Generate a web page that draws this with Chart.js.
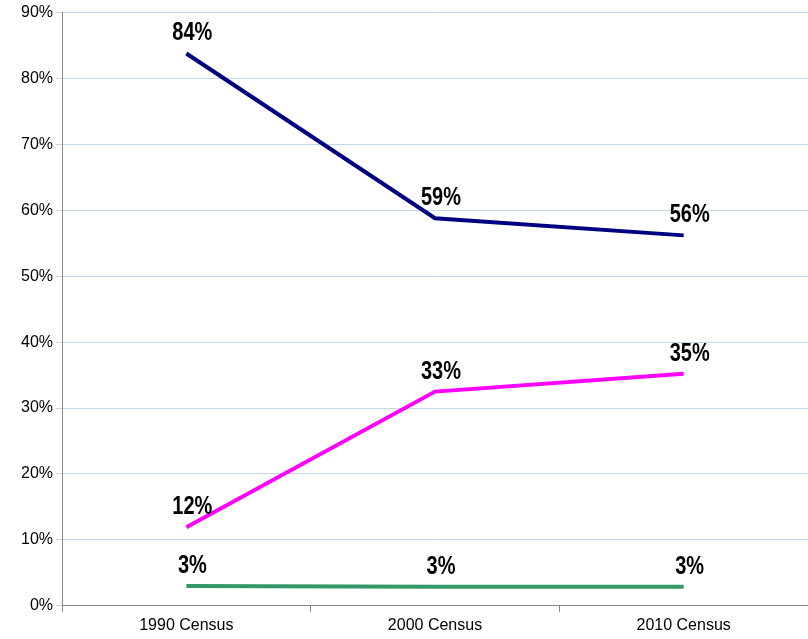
<!DOCTYPE html>
<html>
<head>
<script src="https://cdn.jsdelivr.net/npm/chart.js@4/dist/chart.umd.min.js"></script>
<style>
  body { margin: 0; background: #fff; }
  #wrap { width: 808px; height: 639px; }
</style>
</head>
<body>
<div id="wrap"><canvas id="chart"></canvas></div>
<script>
const categories = ['1990 Census', '2000 Census', '2010 Census'];
const blueValues = [83.8, 58.8, 56.2];
const magentaValues = [11.9, 32.5, 35.2];
const greenValues = [3.0, 2.9, 2.9];
const blueLabels = ['84%', '59%', '56%'];
const magentaLabels = ['12%', '33%', '35%'];
const greenLabels = ['3%', '3%', '3%'];

// draws the bold value labels above each point (condensed)
const pointLabels = {
    id: 'pointLabels',
    afterDatasetsDraw(chart) {
        const ctx = chart.ctx;
        chart.data.datasets.forEach((ds, i) => {
            chart.getDatasetMeta(i).data.forEach((pt, j) => {
                ctx.save();
                ctx.translate(pt.x + 6, pt.y - 13);
                ctx.scale(0.8, 1);
                ctx.font = 'bold 25px "Liberation Sans", Arial, sans-serif';
                ctx.fillStyle = '#000';
                ctx.textAlign = 'center';
                ctx.textBaseline = 'alphabetic';
                ctx.fillText(ds.labels[j], 0, 0);
                ctx.restore();
            });
        });
    }
};

new Chart(document.getElementById('chart'), {
    type: 'line',
    data: {
        labels: categories,
        datasets: [
            { data: blueValues, labels: blueLabels, borderColor: '#000080', borderWidth: 4, pointRadius: 0, tension: 0 },
            { data: magentaValues, labels: magentaLabels, borderColor: '#ff00ff', borderWidth: 4, pointRadius: 0, tension: 0 },
            { data: greenValues, labels: greenLabels, borderColor: '#339966', borderWidth: 4, pointRadius: 0, tension: 0 }
        ]
    },
    options: {
        responsive: true,
        maintainAspectRatio: false,
        animation: false,
        layout: { padding: { top: 10, right: 0, left: 18, bottom: 0 } },
        plugins: { legend: { display: false }, tooltip: { enabled: false } },
        scales: {
            x: {
                offset: true,
                grid: { display: true, drawOnChartArea: false, offset: true, color: '#888', tickLength: 6 },
                border: { color: '#888' },
                ticks: { color: '#000', font: { family: '"Liberation Sans", Arial', size: 16 }, padding: 4 }
            },
            y: {
                min: 0,
                max: 90,
                ticks: {
                    stepSize: 10,
                    color: '#000',
                    font: { family: '"Liberation Sans", Arial', size: 16 },
                    callback: v => v + '%'
                },
                grid: { color: '#c6d6ea', tickLength: 6 },
                border: { color: '#888' }
            }
        }
    },
    plugins: [pointLabels]
});
</script>
</body>
</html>
